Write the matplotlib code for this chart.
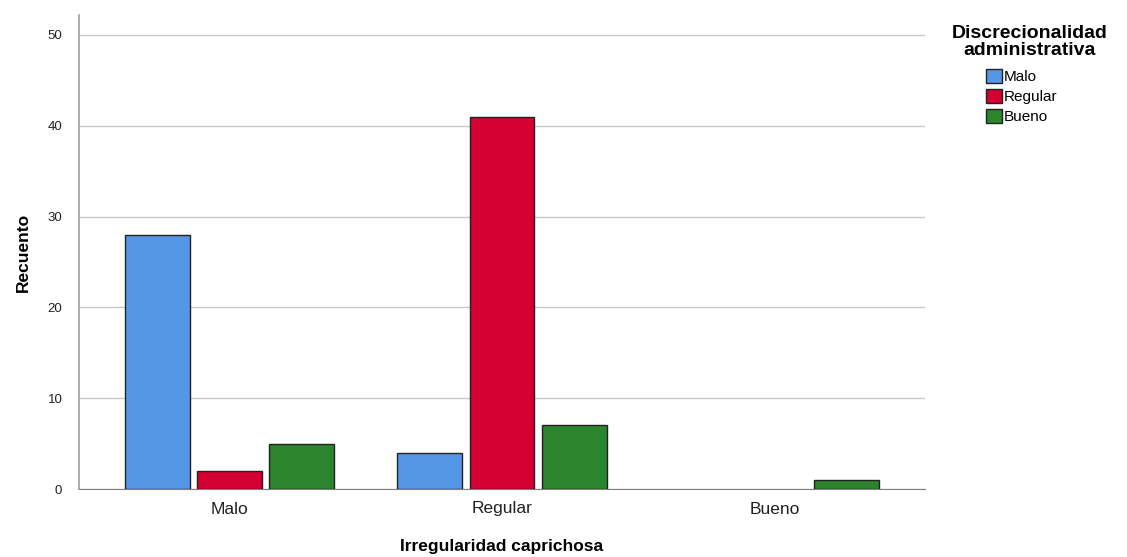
import numpy as np
import matplotlib.pyplot as plt
from matplotlib.patches import Patch

plt.rcParams['font.family'] = ['Liberation Sans', 'DejaVu Sans']

# Datos
categorias = ["Malo", "Regular", "Bueno"]
series = ["Malo", "Regular", "Bueno"]
malo = [28, 4, 0]
regular = [2, 41, 0]
bueno = [5, 7, 1]
colores = ["#5596E5", "#D50032", "#2A852C"]

fig = plt.figure(figsize=(11.27, 5.57), dpi=100)
ax = fig.add_axes([79/1127, 1 - 489/557, (925-79)/1127, (489-15)/557])

x = np.arange(len(categorias))
ancho = 0.238
paso = 0.264
for i, (valores, color) in enumerate(zip([malo, regular, bueno], colores)):
    # las barras con valor 0 no se dibujan con borde
    lw = [1 if v > 0 else 0 for v in valores]
    ax.bar(x + (i - 1) * paso, valores, ancho, color=color,
           edgecolor="#222222", linewidth=lw, zorder=3)

ax.set_xlim(-0.55, 2.55)
ax.set_ylim(0, 52.2)
ax.set_yticks([0, 10, 20, 30, 40, 50])
ax.set_xticks(x)
ax.set_xticklabels(categorias, fontsize=12.5, color="#222222")
ax.tick_params(axis="y", labelsize=9.5, colors="#222222", length=0, pad=12)
ax.tick_params(axis="x", length=0, pad=9)
ax.grid(axis="y", color="#c8c8c8", linewidth=1, zorder=0)
for s in ["top", "right"]:
    ax.spines[s].set_visible(False)
ax.spines["left"].set_color("#a0a0a0")
ax.spines["bottom"].set_color("#808080")
ax.spines["left"].set_linewidth(1.2)

ax.set_ylabel("Recuento", fontsize=12.5, fontweight="bold", labelpad=12)
fig.text(502/1127, 1 - 547/557, "Irregularidad caprichosa", ha="center", va="center",
         fontsize=12.5, fontweight="bold")

# Leyenda
fig.text(1030/1127, 1 - 42/557, "Discrecionalidad\nadministrativa", ha="center",
         va="center", fontsize=14, fontweight="bold", linespacing=0.95)
handles = [Patch(facecolor=c, edgecolor="#222222", label=s) for s, c in zip(series, colores)]
fig.legend(handles=handles, loc="upper left", bbox_to_anchor=(986/1127, 1 - 69/557),
           frameon=False, fontsize=11, handlelength=1.05, handleheight=1.05,
           handletextpad=0.1, labelspacing=0.3, borderpad=0, borderaxespad=0)

fig.savefig("out.png", dpi=100)
